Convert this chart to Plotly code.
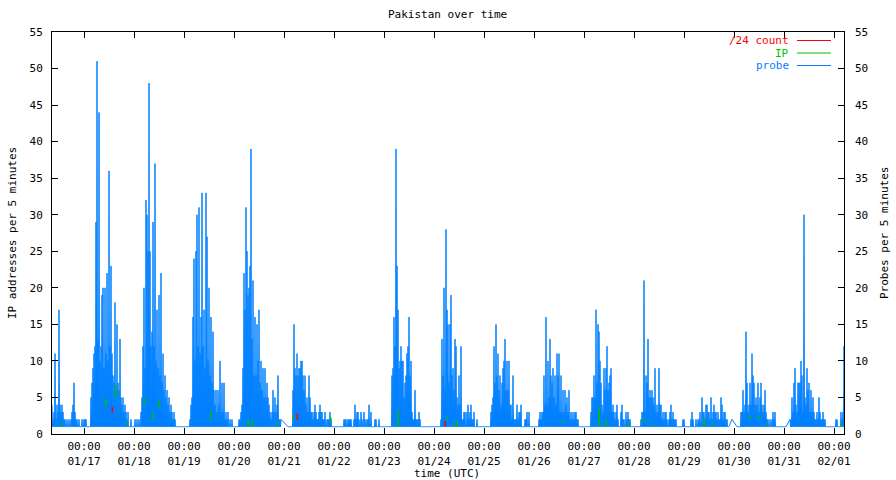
import datetime as dt
import plotly.graph_objects as go

# ---------------- text ----------------
chart_title = "Pakistan over time"
x_title = "time (UTC)"
y_left_title = "IP addresses per 5 minutes"
y_right_title = "Probes per 5 minutes"
legend_names = ["/24 count", "IP", "probe"]
legend_colors = ["#ff0000", "#00c000", "#0080ff"]
tick_clock = "00:00"
tick_days = ["01/17", "01/18", "01/19", "01/20", "01/21", "01/22", "01/23", "01/24",
             "01/25", "01/26", "01/27", "01/28", "01/29", "01/30", "01/31", "02/01"]
y_tick_values = [0, 5, 10, 15, 20, 25, 30, 35, 40, 45, 50, 55]
YEAR = 2025
x_start = "2025-01-16 08:38"
x_end = "2025-02-01 04:48"

# ---------------- probe data: column peaks, 50 readings per day (every 28.8 min) ----------------
probe_baseline = 1
N = None
probe_0116 = [N] * 18 + [4, 2, 3, 11, 2, 4, 3, 17, 4, 3, 4, 3, 2, 2, 1, 2, 1, 2, 1, 2, 3, 4, 7, 3, 2, 2, 1, 2, 1, 1, 2, 1]
probe_0117 = [2, 2, 2, 1, 1, 1, 1, 5, 7, 9, 11, 12, 29, 51, 13, 44, 10, 12, 19, 20, 9, 20, 11, 22, 10, 36, 12, 23, 11, 8,
              7, 18, 6, 15, 7, 6, 13, 5, 4, 5, 3, 4, 3, 2, 3, 1, 1, 2, 1, 1]
probe_0118 = [1, 2, 1, 2, 1, 2, 1, 3, 5, 12, 20, 9, 32, 30, 25, 48, 25, 12, 14, 29, 12, 37, 10, 17, 9, 19, 8, 22, 7, 11,
              6, 8, 5, 6, 4, 5, 3, 4, 3, 2, 3, 2, 1, 1, 1, 1, 1, 1, 1, 1]
probe_0119 = [1, 1, 1, 1, 1, 1, 2, 4, 5, 16, 24, 10, 25, 30, 12, 31, 11, 16, 33, 12, 17, 9, 33, 27, 10, 20, 8, 16, 7, 14,
              6, 4, 6, 3, 6, 4, 10, 3, 7, 3, 7, 2, 3, 2, 3, 1, 2, 1, 2, 1]
probe_0120 = [1, 1, 1, 1, 1, 2, 2, 3, 4, 9, 22, 17, 31, 25, 19, 20, 23, 39, 13, 21, 8, 16, 8, 15, 10, 17, 7, 10, 6, 9,
              5, 9, 5, 7, 5, 4, 3, 2, 3, 6, 3, 5, 3, 4, 8, 2, 2, 2, N, N]
probe_0121 = [N, N, N, N, 1, 1, 1, 1, 1, 6, 15, 9, 8, 11, 8, 9, 9, 10, 10, 8, 6, 8, 4, 5, 3, 8, 5, 3, 3, 2,
              3, 4, 3, 2, 2, 3, 4, 3, 3, 2, 2, 3, 1, 2, 2, 2, 3, 2, 1, 1]
probe_0122 = [1, 1, 1, 1, 1, 1, 1, 1, 1, 1, 2, 2, 2, 1, 2, 2, 2, 2, 1, 1, 2, 4, 2, 3, 3, 2, 1, 3, 2, 1,
              3, 2, 1, 2, 2, 4, 1, 3, 1, 1, 1, 2, 2, 1, 1, 2, 1, 1, 1, 1]
probe_0123 = [1, 1, 1, 1, 1, 1, 1, 1, 8, 9, 16, 12, 39, 23, 17, 9, 10, 12, 10, 10, 5, 7, 8, 11, 12, 16, 8, 10, 3, 2,
              2, 6, 2, 2, 2, 3, 2, 1, 1, 1, 1, 1, 1, 1, 1, 1, 1, 1, 1, 1]
probe_0124 = [1, 1, 1, 1, 1, 1, 1, 2, 13, 8, 20, 6, 28, 17, 15, 7, 15, 19, 8, 9, 6, 13, 12, 5, 4, 8, 4, 12, 2, 2,
              3, 3, 1, 3, 4, 2, 3, 4, 2, 2, 3, 1, 1, 2, 1, 1, 1, 1, 1, 1]
probe_0125 = [1, 1, 1, 1, 1, 1, 1, 3, 4, 5, 12, 7, 15, 8, 11, 6, 8, 4, 7, 9, 10, 13, 6, 10, 6, 10, 4, 4, 2, 8,
              2, 2, 2, 4, 2, 3, 3, 4, 1, 1, 1, 2, 2, 3, 1, 3, 1, 1, 1, 1]
probe_0126 = [1, 1, 1, 1, 1, 2, 3, 2, 3, 3, 8, 4, 16, 4, 10, 5, 13, 8, 7, 9, 5, 8, 4, 11, 8, 11, 3, 8, 3, 6,
              3, 6, 4, 5, 3, 6, 2, 3, 2, 3, 2, 3, 3, 2, 2, 1, 1, 1, 1, 1]
probe_0127 = [1, 1, 1, 1, 1, 1, 1, 3, 5, 5, 8, 5, 17, 7, 15, 14, 10, 7, 4, 3, 9, 6, 9, 12, 6, 7, 8, 9, 3, 4,
              3, 2, 3, 4, 2, 1, 1, 3, 4, 2, 2, 1, 3, 2, 3, 2, 2, 1, 1, 1]
probe_0128 = [1, 1, 1, 1, 1, 1, 1, 2, 3, 3, 21, 3, 8, 7, 13, 5, 6, 5, 6, 5, 4, 9, 3, 4, 3, 9, 4, 4, 2, 3,
              2, 3, 3, 2, 1, 2, 3, 4, 2, 3, 2, 2, 2, 1, 1, 1, 1, 1, 1, 2]
probe_0129 = [2, 1, 1, 1, 1, 1, 1, 2, 3, 2, 1, 1, 2, 1, 2, 2, 3, 1, 5, 3, 3, 2, 4, 4, 3, 3, 2, 5, 2, 3,
              4, 3, 3, 2, 3, 2, 2, 5, 4, 2, 3, 3, 2, 2, 1, 1, N, N, 2, N]
probe_0130 = [N, N, N, 1, 1, 1, 1, 3, 3, 6, 3, 4, 14, 7, 3, 4, 7, 4, 11, 8, 7, 4, 5, 4, 7, 3, 5, 7, 4, 3,
              4, 6, 3, 2, 2, 1, 2, 1, 2, 3, 2, 3, 1, 1, 1, 1, 1, 1, 1, 1]
probe_0131 = [1, 1, 1, N, N, N, 2, 2, 5, 3, 7, 9, 4, 3, 7, 7, 7, 10, 8, 3, 30, 5, 4, 9, 6, 7, 3, 6, 3, 5,
              3, 2, 2, 3, 2, 5, 3, 2, 2, 3, 2, 2, 1, 1, 1, 1, 1, 1, 1, 1]
probe_0201 = [1, 1, 2, 2, 1, 1, 1, 3, 2, 3, 12]

probe_days = [
    ("2025-01-16", probe_0116), ("2025-01-17", probe_0117), ("2025-01-18", probe_0118),
    ("2025-01-19", probe_0119), ("2025-01-20", probe_0120), ("2025-01-21", probe_0121),
    ("2025-01-22", probe_0122), ("2025-01-23", probe_0123), ("2025-01-24", probe_0124),
    ("2025-01-25", probe_0125), ("2025-01-26", probe_0126), ("2025-01-27", probe_0127),
    ("2025-01-28", probe_0128), ("2025-01-29", probe_0129), ("2025-01-30", probe_0130),
    ("2025-01-31", probe_0131), ("2025-02-01", probe_0201),
]
samples_per_day = 50

# ---------------- IP and /24 count: visible segments (time, low, high) ----------------
ip_times = ["2025-01-16 13:25", "2025-01-17 10:25", "2025-01-17 15:20", "2025-01-17 20:20",
            "2025-01-18 04:55", "2025-01-18 08:55", "2025-01-18 12:10", "2025-01-19 12:50",
            "2025-01-20 06:50", "2025-01-20 08:45", "2025-01-20 20:30", "2025-01-21 04:30",
            "2025-01-21 22:25", "2025-01-23 06:45", "2025-01-24 06:30", "2025-01-24 09:40",
            "2025-01-24 11:00", "2025-01-26 14:05", "2025-01-27 07:20", "2025-01-27 10:35",
            "2025-01-27 21:45", "2025-01-28 04:55", "2025-01-28 09:15", "2025-01-29 09:40",
            "2025-01-29 13:35", "2025-01-30 07:45", "2025-01-30 12:10", "2025-01-30 15:35",
            "2025-02-01 03:35"]
ip_low = [1, 3.7, 4.9, 1.2, 4, 2, 3.6, 2, 1, 1, 1.2, 1.9, 1.6, 1, 1.8, 1, 1, 1.5, 1, 1, 1, 1.5, 1, 1, 1, 2, 2, 1, 1]
ip_high = [1.5, 4.9, 6.7, 1.6, 5, 2.9, 4.6, 3, 2, 2, 1.6, 2.6, 2.3, 3.3, 2.3, 1.4, 1.8, 1.9, 3.7, 2, 1.5, 2.2, 1.4,
           2.2, 1.5, 2.5, 2.5, 1.3, 1.5]
count_times = ["2025-01-17 13:35", "2025-01-21 06:25", "2025-01-24 05:25"]
count_low = [2.9, 1.9, 1]
count_high = [3.7, 2.8, 1.8]

# ---------------- build probe series (peak then baseline in each column) ----------------
step = dt.timedelta(days=1) / samples_per_day
flat = []
for day, vals in probe_days:
    d0 = dt.datetime.fromisoformat(day)
    for i, v in enumerate(vals):
        flat.append((d0 + i * step, v))

px, py = [], []
for k, (t, v) in enumerate(flat):
    if v is None:
        continue
    px.append(t)
    py.append(v)
    nxt = flat[k + 1][1] if k + 1 < len(flat) else 0
    if nxt is not None:
        px.append(t + step / 2)
        py.append(probe_baseline)


def segments(times, lows, highs):
    xs, ys = [], []
    for t, lo, hi in zip(times, lows, highs):
        xs += [t, t, None]
        ys += [lo, hi, None]
    return xs, ys


ipx, ipy = segments(ip_times, ip_low, ip_high)
cx, cy = segments(count_times, count_low, count_high)

fig = go.Figure()
fig.add_trace(go.Scatter(x=px, y=py, mode="lines", name=legend_names[2],
                         line=dict(color=legend_colors[2], width=1, simplify=False), hoverinfo="skip"))
fig.add_trace(go.Scatter(x=ipx, y=ipy, mode="lines", name=legend_names[1], yaxis="y2",
                         line=dict(color=legend_colors[1], width=1.5), hoverinfo="skip"))
fig.add_trace(go.Scatter(x=cx, y=cy, mode="lines", name=legend_names[0], yaxis="y2",
                         line=dict(color=legend_colors[0], width=1.5), hoverinfo="skip"))

tick_vals = [dt.datetime(YEAR, int(d[:2]), int(d[3:])) for d in tick_days]
tick_text = [f"{tick_clock}<br>{d}" for d in tick_days]

FONT = "DejaVu Sans Mono"
axis_common = dict(showgrid=False, zeroline=False, ticks="inside", ticklen=6, tickcolor="black",
                   tickwidth=1, automargin=False, tickfont=dict(family=FONT, size=11, color="black"))

fig.update_layout(
    width=896, height=480,
    margin=dict(l=52, r=52, t=32, b=46, pad=0),
    paper_bgcolor="white", plot_bgcolor="white",
    font=dict(family=FONT, size=11, color="black"),
    showlegend=False,
    xaxis=dict(type="date", range=[x_start, x_end], tickmode="array", tickvals=tick_vals, ticktext=tick_text,
               showline=True, linecolor="black", linewidth=1, mirror="ticks", ticklabelstandoff=2,
               **axis_common),
    yaxis=dict(range=[0, 55], tickmode="array", tickvals=y_tick_values, showline=True, linecolor="black",
               linewidth=1, mirror=True, ticklabelstandoff=6, **axis_common),
    yaxis2=dict(range=[0, 55], tickmode="array", tickvals=y_tick_values, overlaying="y", side="right",
                showline=False, ticklabelstandoff=10, **axis_common),
)

# plot area in pixels: x 52..844, y 32..434
def pxx(x):
    return (x - 52) / 792


def pxy(y):
    return (434 - y) / 402


ann = [
    dict(text=chart_title, x=pxx(447), y=pxy(15)),
    dict(text=x_title, x=pxx(447), y=pxy(473)),
    dict(text=y_left_title, x=pxx(12), y=0.5, textangle=-90),
    dict(text=y_right_title, x=pxx(884), y=0.5, textangle=-90),
]
for a in ann:
    fig.add_annotation(xref="paper", yref="paper", showarrow=False, xanchor="center", yanchor="middle",
                       font=dict(family=FONT, size=11, color="black"), **a)

legend_rows = [40.5, 53, 65.5]
for name, color, row in zip(legend_names, legend_colors, legend_rows):
    fig.add_annotation(xref="paper", yref="paper", showarrow=False, xanchor="right", yanchor="middle",
                       x=pxx(790), y=pxy(row), text=name, height=11, borderpad=0,
                       font=dict(family=FONT, size=11, color=color))
    fig.add_shape(type="line", xref="paper", yref="paper", x0=pxx(797), x1=pxx(831), y0=pxy(row), y1=pxy(row),
                  line=dict(color=color, width=1))

fig.write_html("out.html", config={"displayModeBar": False},
               post_script="document.body.style.margin='0';document.body.style.padding='0';")
